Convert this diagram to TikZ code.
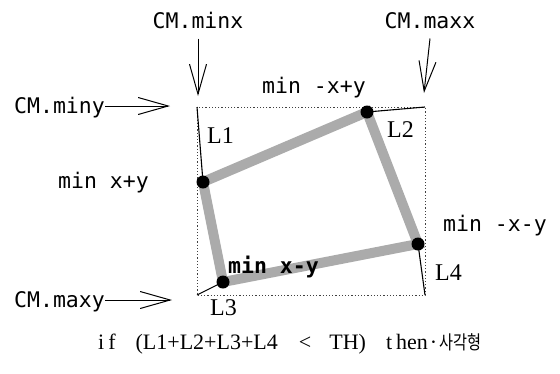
\documentclass[tikz,border=0pt]{standalone}
\usepackage{fontspec}
\setmainfont{Liberation Serif}
\newfontfamily\monof{DejaVu Sans Mono}
\newfontfamily\krf{Noto Sans CJK KR}
\usetikzlibrary{arrows.meta}
\begin{document}
\begin{tikzpicture}[x=1pt,y=-1pt,
  mono/.style={font=\monof\fontsize{21.5}{24}\selectfont, inner sep=0pt},
  monob/.style={font=\monof\bfseries\fontsize{21.5}{24}\selectfont, inner sep=0pt},
  lab/.style={font=\fontsize{24}{26}\selectfont, inner sep=0pt},
  bottomtext/.style={font=\fontsize{22}{24}\selectfont, inner sep=0pt},
  dotnode/.style={circle, fill=black, inner sep=0pt, minimum size=13pt},
  band/.style={line width=10pt, black!33, line join=miter},
  guide/.style={line width=1pt, -{Straight Barb[length=30pt,width=17pt,line width=1pt]}},
  boxline/.style={line width=0.9pt, dash pattern=on 1.2pt off 2pt, black!75},
  lline/.style={line width=1.1pt}]
\useasboundingbox (0,0) rectangle (560,373);
% box corners
\coordinate (TL) at (197,107);
\coordinate (TR) at (425,107);
\coordinate (BR) at (425,295);
\coordinate (BL) at (197,295);
% corner points of the shape
\coordinate (p1) at (203,182);
\coordinate (p2) at (367,112);
\coordinate (p4) at (418,244);
\coordinate (p3) at (223,282);
\draw[boxline] (TL) rectangle (BR);
\draw[band] (p1) -- (p2) -- (p4) -- (p3) -- cycle;
% lines L1..L4
\draw[lline] (TL) -- (p1);
\draw[lline] (p2) -- (TR);
\draw[lline] (p4) -- (BR);
\draw[lline] (p3) -- (BL);
% dots
\node[dotnode] (d1) at (p1) {};
\node[dotnode] (d2) at (p2) {};
\node[dotnode] (d4) at (p4) {};
\node[dotnode] (d3) at (p3) {};
% CM labels and arrows
\node[mono, anchor=base] (minx) at (198,28) {CM.minx};
\node[mono, anchor=base] (maxx) at (430,28) {CM.maxx};
\node[mono, anchor=base west] (miny) at (14,113) {CM.miny};
\node[mono, anchor=base west] (maxy) at (14,307) {CM.maxy};
\coordinate (aminx) at (198,96);
\coordinate (amaxx) at (424,93);
\coordinate (aminy) at (170,106);
\coordinate (amaxy) at (172,300);
\draw[guide] ([yshift=-10pt]minx.south) -- (aminx);
\draw[guide] ([yshift=-10pt]maxx.south) -- (amaxx);
\draw[guide] ([yshift=7pt]miny.base east) -- (aminy);
\draw[guide] ([yshift=7pt]maxy.base east) -- (amaxy);
% min labels
\node[mono, anchor=base] (mxy) at (314,93) {min -x+y};
\node[mono, anchor=base west] (pxy) at (58,188) {min x+y};
\node[mono, anchor=base west] (nxny) at (443,231) {min -x-y};
\node[monob, anchor=base west] (xny) at (228,273) {min x-y};
% L labels
\node[lab, anchor=base west] (L1) at (207,143) {L1};
\node[lab, anchor=base west] (L2) at (387,137) {L2};
\node[lab, anchor=base west] (L3) at (210,315) {L3};
\node[lab, anchor=base west] (L4) at (435,280) {L4};
% bottom condition
\node[bottomtext, anchor=base west] (cond) at (98,349) {i\hspace{4pt}f\hspace{20pt}(L1+L2+L3+L4\hspace{21pt}<\hspace{18pt}TH)\hspace{20pt}t\hspace{4pt}hen\hspace{2pt}·\hspace{2pt}\scalebox{0.8}[1]{\krf\fontsize{19}{22}\selectfont 사각형}};
\end{tikzpicture}
\end{document}
